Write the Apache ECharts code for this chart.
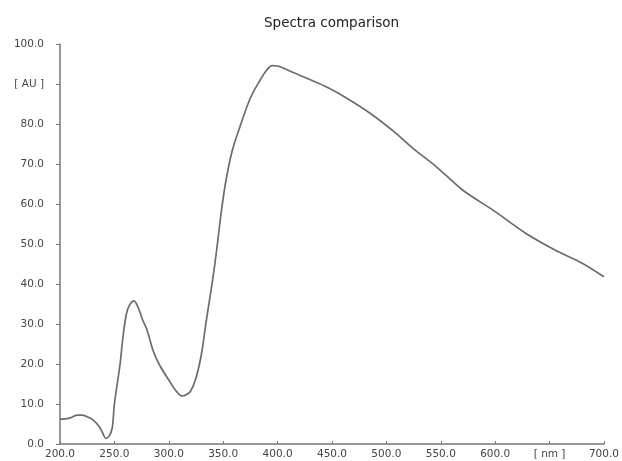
<!DOCTYPE html>
<html>
<head>
<meta charset="utf-8">
<script src="https://cdn.jsdelivr.net/npm/echarts@6/dist/echarts.min.js"></script>
<style>
  html, body { margin: 0; padding: 0; background: #fff; }
  #chart { width: 622px; height: 461px; }
</style>
</head>
<body>
<div id="chart"></div>
<script>
// Absorbance spectrum, wavelength in nm vs. absorbance in AU
const wavelengths = [
  200, 205, 210, 216, 220, 225, 230, 236, 240, 242, 245, 248,
  250, 255, 258, 261, 264, 268, 272, 276, 280, 286, 292, 300,
  306, 312, 316, 320, 325, 330, 335, 340, 344, 348, 352, 358,
  365, 375, 384, 390, 395, 400, 405, 415, 428, 446, 464, 485,
  507, 525, 546, 570, 600, 628, 655, 680, 700
];
const absorbance = [
  6.2, 6.3, 6.6, 7.2, 7.2, 6.8, 6.1, 4.4, 2.3, 1.4, 1.9, 4.0,
  10.0, 19.5, 27.0, 32.5, 34.8, 35.8, 34.0, 31.0, 28.5, 23.0, 19.5, 16.0,
  13.5, 12.0, 12.3, 13.2, 16.5, 22.5, 31.8, 40.5, 48.5, 57.5, 65.0, 73.0,
  79.0, 86.5, 91.0, 93.5, 94.6, 94.5, 94.0, 92.8, 91.3, 89.1, 86.4, 82.7,
  78.1, 73.8, 69.3, 63.5, 58.1, 52.7, 48.5, 45.2, 41.8
];

// Tick labels: the unit replaces one numeric label on each axis
const xTickLabels = ['200.0', '250.0', '300.0', '350.0', '400.0', '450.0',
                     '500.0', '550.0', '600.0', '[ nm ]', '700.0'];
const yTickLabels = ['0.0', '10.0', '20.0', '30.0', '40.0', '50.0',
                     '60.0', '70.0', '80.0', '[ AU ]', '100.0'];

const points = wavelengths.map((w, i) => [w, absorbance[i]]);

const labelStyle = {
  fontFamily: 'DejaVu Sans',
  fontSize: 10.5,
  color: '#444'
};

const chart = echarts.init(document.getElementById('chart'));
chart.setOption({
  backgroundColor: '#ffffff',
  animation: false,
  title: {
    text: 'Spectra comparison',
    left: 259,
    top: 11,
    textStyle: {
      fontFamily: 'DejaVu Sans',
      fontSize: 13.5,
      fontWeight: 'normal',
      color: '#222'
    }
  },
  grid: { left: 60, right: 13, top: 44, bottom: 17 },
  xAxis: {
    type: 'value',
    min: 200,
    max: 700,
    interval: 50,
    axisLine: { lineStyle: { color: '#777', width: 1.5 } },
    axisTick: { inside: true, length: 3, lineStyle: { color: '#777' } },
    splitLine: { show: false },
    axisLabel: Object.assign({}, labelStyle, {
      margin: 5,
      formatter: v => xTickLabels[Math.round((v - 200) / 50)]
    })
  },
  yAxis: {
    type: 'value',
    min: 0,
    max: 100,
    interval: 10,
    axisLine: { show: true, lineStyle: { color: '#777', width: 1.5 } },
    axisTick: { show: true, length: 4, lineStyle: { color: '#777' } },
    splitLine: { show: false },
    axisLabel: Object.assign({}, labelStyle, {
      margin: 16,
      formatter: v => yTickLabels[Math.round(v / 10)]
    })
  },
  series: [{
    type: 'line',
    data: points,
    smooth: 0.3,
    symbol: 'none',
    lineStyle: { color: '#6c6c6c', width: 1.7 }
  }]
});
</script>
</body>
</html>
